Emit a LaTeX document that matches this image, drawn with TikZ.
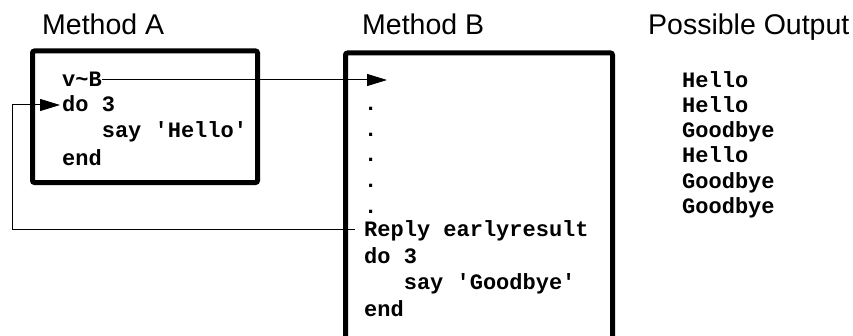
\documentclass[tikz,border=0pt]{standalone}
\usepackage{fontspec}
\setmainfont{Liberation Sans}
\setmonofont{Liberation Mono}
\usetikzlibrary{arrows.meta, positioning}

\begin{document}
\begin{tikzpicture}[x=1pt, y=1pt,
  title/.style={anchor=base west, inner sep=0pt, font=\fontsize{28.5}{31}\selectfont},
  code/.style={anchor=base west, inner sep=0pt, text height=16pt, text depth=2pt,
    font=\ttfamily\bfseries\fontsize{22}{26}\selectfont},
  frame/.style={line width=5pt, rounded corners=2pt},
  link/.style={line width=1pt, -{Triangle[length=20pt, width=12pt]}}]
\useasboundingbox (0,0) rectangle (853,335);
\clip (0,0) rectangle (853,335);

% titles
\node[title] (titleA) at (42,300) {Method A};
\node[title] (titleB) at (362,300) {Method B};
\node[title] (titleOut) at (648,300) {Possible Output};

% method A
\draw[frame] (32.5,284) rectangle (257.5,152.5);
\node[code] (vB) at (62,248) {v\textasciitilde B};
\node[code] (do3A) at (62,223) {do 3};
\node[code] (sayA) at (101.6,197) {say \textquotesingle Hello\textquotesingle};
\node[code] (endA) at (62,170) {end};

% method B (runs off the bottom)
\draw[frame] (345.5,-10) -- (345.5,282) -- (612.5,282) -- (612.5,-10);
\coordinate (entry) at (387,255);
\foreach \y [count=\i] in {224,198.5,173,147.5,122}
  \node[code] (dot\i) at (364,\y) {.};
\node[code] (reply) at (364,98.5) {Reply earlyresult};
\node[code] (do3B) at (364,72) {do 3};
\node[code] (sayB) at (403.6,45.5) {say \textquotesingle Goodbye\textquotesingle};
\node[code] (endB) at (364,19) {end};

% calls
\coordinate (loop) at (12.5,0);
\draw[link] (vB.east) -- (entry);
\draw[link, shorten <=9pt, shorten >=2pt] (reply.west) -- (reply.west -| loop) |- (do3A.west);

% possible output
\foreach \w/\y [count=\i] in {Hello/247,Hello/222,Goodbye/197,Hello/172,Goodbye/147,Goodbye/122}
  \node[code] (out\i) at (682,\y) {\w};
\end{tikzpicture}
\end{document}
